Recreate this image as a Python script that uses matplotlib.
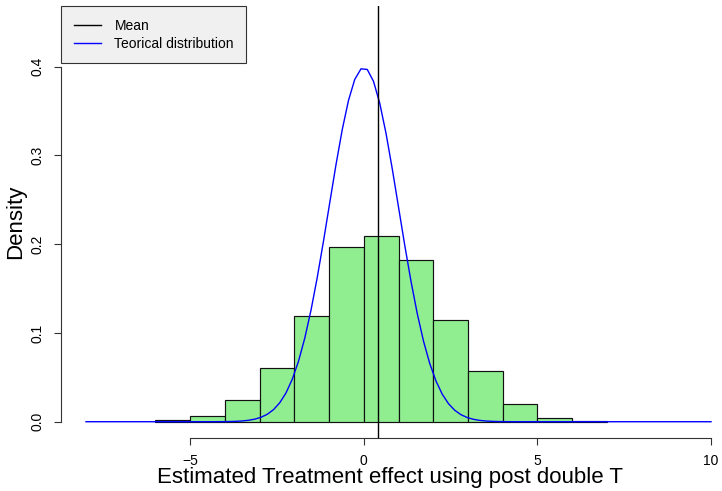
import numpy as np
import matplotlib
matplotlib.use("Agg")
import matplotlib.pyplot as plt
from matplotlib.lines import Line2D

plt.rcParams['font.family'] = ['Liberation Sans', 'DejaVu Sans']

# histogram of the estimates (density scale), bins of width 1
bin_edges = [-6, -5, -4, -3, -2, -1, 0, 1, 2, 3, 4, 5, 6, 7]
densities = [0.002, 0.006, 0.024, 0.061, 0.119, 0.197, 0.209, 0.182, 0.115, 0.057, 0.020, 0.004, 0.001]
mean_estimate = 0.42

# theoretical N(0,1) density, drawn like R's curve() with 101 points
curve_from, curve_to, curve_n = -8, 10, 101
theo_mean, theo_sd = 0.0, 1.0

x_ticks = [-5, 0, 5, 10]
x_ticklabels = ["\u22125", "0", "5", "10"]
y_ticks = [0.0, 0.1, 0.2, 0.3, 0.4]
y_ticklabels = ["0.0", "0.1", "0.2", "0.3", "0.4"]

W, H = 722, 491
# plot region in pixels (R-like: extends past the right edge of the image)
px_left, px_right, px_top, px_bottom = 61, 736, 6.4, 437.7
fig = plt.figure(figsize=(W / 100, H / 100), dpi=100)
ax = fig.add_axes([px_left / W, 1 - px_bottom / H,
                   (px_right - px_left) / W, (px_bottom - px_top) / H])

lefts = np.array(bin_edges[:-1])
widths = np.diff(bin_edges)
ax.bar(lefts, densities, width=widths, align='edge', color='#90EE90',
       edgecolor='#111111', linewidth=0.85, zorder=2)

xs = np.linspace(curve_from, curve_to, curve_n)
ys = np.exp(-0.5 * ((xs - theo_mean) / theo_sd) ** 2) / (theo_sd * np.sqrt(2 * np.pi))
ax.plot(xs, ys, color='blue', linewidth=1.0, zorder=3)

ax.axvline(mean_estimate, color='black', linewidth=1.0, zorder=4)

ax.set_xlim(-8.72, 10.72)
ax.set_ylim(-0.018, 0.468)

for s in ['top', 'right']:
    ax.spines[s].set_visible(False)
ax.spines['left'].set_bounds(0, 0.4)
ax.spines['bottom'].set_bounds(-5, 10)
ax.spines['left'].set_color('#333333')
ax.spines['bottom'].set_color('#333333')

ax.set_xticks(x_ticks)
ax.set_xticklabels(x_ticklabels)
ax.set_yticks(y_ticks)
ax.set_yticklabels(y_ticklabels, rotation=90, va='center')
ax.tick_params(direction='out', length=5.2, width=0.8, labelsize=10, pad=6.5,
               colors='#333333', labelcolor='black')

# axis titles placed like R's mtext lines
fig.text(390 / W, 1 - 478 / H, "Estimated Treatment effect using post double T",
         fontsize=16, ha='center', va='center')
fig.text(16 / W, 1 - 222 / H, "Density", fontsize=16, rotation=90,
         ha='center', va='center')

handles = [Line2D([0], [0], color='black', lw=1.0),
           Line2D([0], [0], color='blue', lw=1.0)]
leg = fig.legend(handles, ["Mean", "Teorical distribution"], loc='upper left',
                 bbox_to_anchor=(61 / W, 1 - 6 / H), borderaxespad=0,
                 fontsize=10, fancybox=False, framealpha=1, edgecolor='#333333',
                 handlelength=2.0, handletextpad=0.95, borderpad=0.9,
                 labelspacing=0.3)
leg.get_frame().set_facecolor('#f0f0f0')
leg.get_frame().set_linewidth(0.8)

fig.savefig("out.png", dpi=100)
